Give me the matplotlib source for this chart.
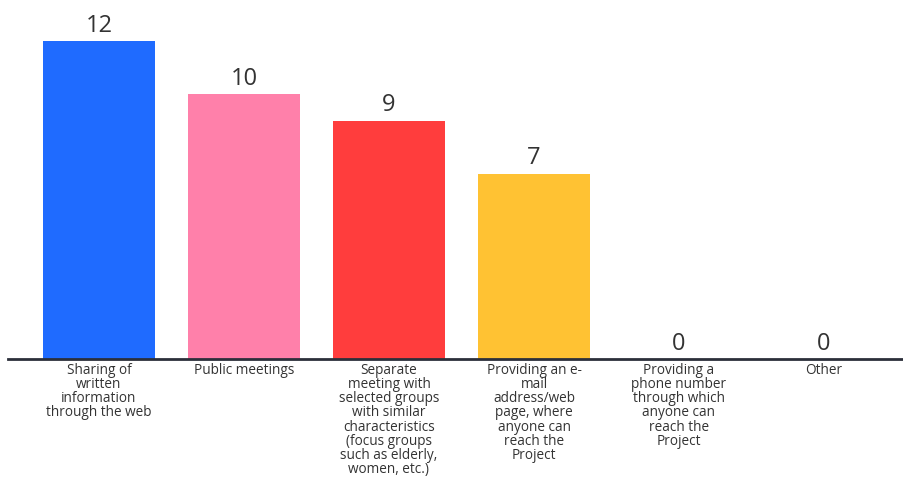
import matplotlib
matplotlib.use("Agg")
import matplotlib.pyplot as plt

categories = [
    "Sharing of\nwritten\ninformation\nthrough the web",
    "Public meetings",
    "Separate\nmeeting with\nselected groups\nwith similar\ncharacteristics\n(focus groups\nsuch as elderly,\nwomen, etc.)",
    "Providing an e-\nmail\naddress/web\npage, where\nanyone can\nreach the\nProject",
    "Providing a\nphone number\nthrough which\nanyone can\nreach the\nProject",
    "Other",
]
values = [12, 10, 9, 7, 0, 0]
colors = ["#1f6bff", "#ff80aa", "#ff3d3d", "#ffc233", "#9e9e9e", "#9e9e9e"]

plt.rcParams["font.family"] = ["Open Sans", "DejaVu Sans"]
text_color = "#333333"

fig = plt.figure(figsize=(9.04, 4.81), dpi=100)
ax = fig.add_axes([8 / 904, 121 / 481, (904 - 8) / 904, 360 / 481])

x = list(range(len(categories)))
bars = ax.bar(x, values, width=0.772, color=colors, zorder=2)

for xi, v in zip(x, values):
    ax.annotate(str(v), xy=(xi, v), xytext=(0, 3), textcoords="offset points",
                ha="center", va="bottom", fontsize=17, color=text_color)

ax.set_xlim((8 - 99) / 145, (904 - 99) / 145)
ax.set_ylim(0, 360 / 26.5)

for side in ["top", "right", "left"]:
    ax.spines[side].set_visible(False)
ax.spines["bottom"].set_color("#2b2f3a")
ax.spines["bottom"].set_linewidth(2)
ax.set_yticks([])
ax.set_xticks(x)
ax.set_xticklabels(categories, fontsize=9.8, color=text_color, linespacing=0.93,
                   va="top")
ax.tick_params(axis="x", length=0, pad=2)

fig.savefig("out.png", dpi=100, facecolor="white")
